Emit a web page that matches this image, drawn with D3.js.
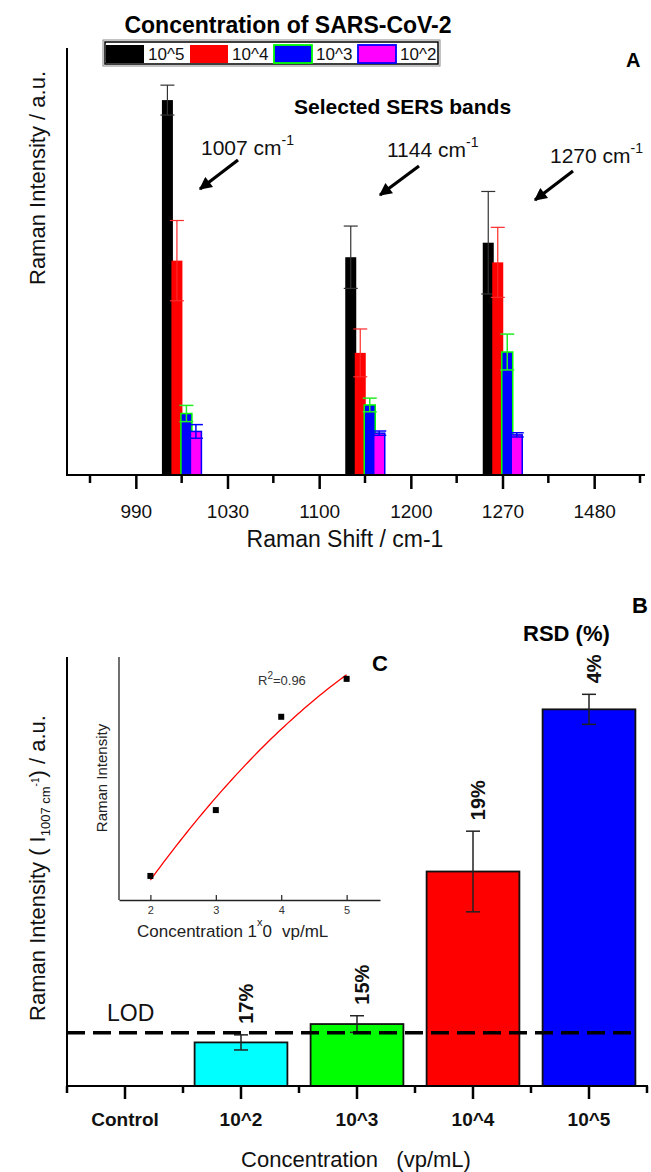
<!DOCTYPE html>
<html>
<head>
<meta charset="utf-8">
<script src="https://cdn.jsdelivr.net/npm/d3@7"></script>
<style>
  body { margin: 0; background: #fff; }
  svg { display: block; }
  text { font-family: "Liberation Sans", Arial, sans-serif; }
</style>
</head>
<body>
<svg width="651" height="1172"></svg>
<script>
// ---- panel A : selected SERS bands ----
const shiftTicks = [990, 1030, 1100, 1200, 1270, 1480];
const bands = [1007, 1144, 1270];
const concKeys = ["10^5", "10^4", "10^3", "10^2"];
const bandIntensity = [
  [4390, 2510, 720, 510],
  [2550, 1430, 820, 490],
  [2720, 2490, 1440, 470]
];
const bandErr = [
  [175, 470, 95, 80],
  [365, 280, 80, 25],
  [600, 410, 210, 25]
];

// ---- panel B : intensity of the 1007 band ----
const concLabels = ["Control", "10^2", "10^3", "10^4", "10^5"];
const meanI = [null, 508, 722, 2500, 4390];
const errI = [null, 88, 97, 470, 175];
const rsdLabels = [null, "17%", "15%", "19%", "4%"];
const lodValue = 621;

// ---- inset C : calibration ----
const logConc = [2, 3, 4, 5];
const insetI = [9.9, 37, 75.4, 91];

const svg = d3.select("svg");

// colours of the series in A
const fillA = ["#000000", "#ff0000", "#0000ff", "#ff00ff"];
const strokeA = ["none", "none", "#00ff00", "#0000ff"];
const errColA = ["#333333", "#ff2a2a", "#22ee22", "#0000ff"];
const fillB = [null, "#00ffff", "#00ff00", "#ff0000", "#0000ff"];

// ================= PANEL A =================
const yA = d3.scaleLinear().domain([0, 5000]).range([475, 48]);
const slot = d3.scaleLinear().domain([-0.5, shiftTicks.length - 0.5]).range([90, 640]);
const xTick = d3.scalePoint().domain(shiftTicks).range([slot(0), slot(shiftTicks.length - 1)]);

// category axis: a shift that is not a tick sits halfway between its neighbours
function xA(v) {
  const i = shiftTicks.indexOf(v);
  if (i >= 0) return xTick(v);
  return slot(d3.bisectLeft(shiftTicks, v) - 0.5);
}

const barW = 11, barStep = 9.5;

const gBars = svg.append("g");
bands.forEach(function(b, gi) {
  const cx0 = xA(b);
  concKeys.forEach(function(k, si) {
    const cx = cx0 + (si - 1.5) * barStep;
    const v = bandIntensity[gi][si], e = bandErr[gi][si];
    gBars.append("rect")
      .attr("x", cx - barW / 2)
      .attr("y", yA(v))
      .attr("width", barW)
      .attr("height", yA(0) - yA(v))
      .attr("fill", fillA[si])
      .attr("stroke", strokeA[si])
      .attr("stroke-width", 1.5);
    // error bar
    const eg = gBars.append("g").attr("stroke", errColA[si]).attr("stroke-width", si >= 2 ? 1.5 : 1.2);
    eg.append("line").attr("x1", cx).attr("x2", cx).attr("y1", yA(v + e)).attr("y2", yA(v - e));
    eg.append("line").attr("x1", cx - 7).attr("x2", cx + 7).attr("y1", yA(v + e)).attr("y2", yA(v + e));
    eg.append("line").attr("x1", cx - 7).attr("x2", cx + 7).attr("y1", yA(v - e)).attr("y2", yA(v - e));
  });
});

// axes A
svg.append("line").attr("x1", 67).attr("x2", 67).attr("y1", 48).attr("y2", 476)
  .attr("stroke", "#000").attr("stroke-width", 2);
svg.append("line").attr("x1", 66).attr("x2", 645).attr("y1", 475).attr("y2", 475)
  .attr("stroke", "#000").attr("stroke-width", 2);

const axA = svg.append("g")
  .attr("transform", "translate(0,475)")
  .call(d3.axisBottom(xTick).tickSize(14).tickPadding(16).tickFormat(d3.format("d")));
axA.select(".domain").remove();
axA.selectAll(".tick line").attr("stroke", "#000").attr("stroke-width", 2.5);
axA.selectAll(".tick text").attr("font-size", 19).attr("fill", "#111")
  .attr("font-family", '"Liberation Sans", Arial, sans-serif');

// minor ticks
svg.append("g").selectAll("line")
  .data(d3.range(shiftTicks.length + 1))
  .join("line")
  .attr("x1", i => slot(i - 0.5)).attr("x2", i => slot(i - 0.5))
  .attr("y1", 475).attr("y2", 483)
  .attr("stroke", "#000").attr("stroke-width", 2.5);

svg.append("text").attr("x", 345).attr("y", 547).attr("text-anchor", "middle")
  .attr("font-size", 23).attr("fill", "#111").text("Raman Shift / cm-1");

svg.append("text").attr("transform", "translate(45,178) rotate(-90)")
  .attr("text-anchor", "middle").attr("font-size", 22).attr("fill", "#111")
  .text("Raman Intensity / a.u.");

// title + legend
svg.append("text").attr("x", 288).attr("y", 33).attr("text-anchor", "middle")
  .attr("font-size", 23).attr("font-weight", "bold").text("Concentration of SARS-CoV-2");

svg.append("rect").attr("x", 103).attr("y", 40).attr("width", 337).attr("height", 26)
  .attr("fill", "#fff").attr("stroke", "#888").attr("stroke-width", 1);
svg.append("rect").attr("x", 105).attr("y", 42).attr("width", 333).attr("height", 22)
  .attr("fill", "none").attr("stroke", "#000").attr("stroke-width", 1.5);

const leg = svg.append("g").selectAll("g").data(concKeys).join("g")
  .attr("transform", (d, i) => "translate(" + (106 + i * 84) + ",45)");
leg.append("rect").attr("width", 38).attr("height", 18)
  .attr("fill", (d, i) => fillA[i])
  .attr("stroke", (d, i) => strokeA[i] === "none" ? "none" : strokeA[i])
  .attr("stroke-width", 1.8);
leg.append("text").attr("x", 42).attr("y", 15).attr("font-size", 17).attr("fill", "#111").text(d => d);

svg.append("text").attr("x", 626).attr("y", 67).attr("font-size", 20).attr("font-weight", "bold").text("A");

svg.append("text").attr("x", 294).attr("y", 114).attr("font-size", 21).attr("font-weight", "bold")
  .text("Selected SERS bands");

// band annotations
const bandNotes = [
  { label: "1007", x: 201, y: 155, arrow: [238, 160, 200, 189] },
  { label: "1144", x: 387, y: 157, arrow: [419, 166, 380, 195] },
  { label: "1270", x: 550, y: 163, arrow: [573, 171, 535, 200] }
];
svg.append("defs").append("marker")
  .attr("id", "head").attr("viewBox", "0 0 10 10").attr("refX", 9).attr("refY", 5)
  .attr("markerWidth", 4.5).attr("markerHeight", 4).attr("orient", "auto")
  .attr("markerUnits", "strokeWidth")
  .append("path").attr("d", "M0,0 L10,5 L0,10 z").attr("fill", "#000");

bandNotes.forEach(function(n) {
  const t = svg.append("text").attr("x", n.x).attr("y", n.y).attr("font-size", 21).attr("fill", "#111");
  t.append("tspan").text(n.label + " cm");
  t.append("tspan").attr("dy", -10).attr("font-size", 14).text("-1");
  svg.append("line")
    .attr("x1", n.arrow[0]).attr("y1", n.arrow[1]).attr("x2", n.arrow[2]).attr("y2", n.arrow[3])
    .attr("stroke", "#000").attr("stroke-width", 3.2).attr("marker-end", "url(#head)");
});

// ================= PANEL B =================
const yB = d3.scaleLinear().domain([0, 5000]).range([1086, 657]);
const xB = d3.scaleBand().domain(concLabels).range([67, 647]).paddingInner(0.2).paddingOuter(0.1);

const gB = svg.append("g");
concLabels.forEach(function(c, i) {
  if (meanI[i] == null) return;
  const x0 = xB(c);
  gB.append("rect")
    .attr("x", x0).attr("y", yB(meanI[i]))
    .attr("width", xB.bandwidth()).attr("height", yB(0) - yB(meanI[i]))
    .attr("fill", fillB[i]).attr("stroke", "#111").attr("stroke-width", 1.8);
});

// LOD line
svg.append("line").attr("x1", 67).attr("x2", 634).attr("y1", yB(lodValue)).attr("y2", yB(lodValue))
  .attr("stroke", "#000").attr("stroke-width", 3.5).attr("stroke-dasharray", "18,8");
svg.append("text").attr("x", 107).attr("y", 1021).attr("font-size", 23).attr("fill", "#111").text("LOD");

// error bars + RSD labels
concLabels.forEach(function(c, i) {
  if (meanI[i] == null) return;
  const cx = xB(c) + xB.bandwidth() / 2;
  const hi = yB(meanI[i] + errI[i]), lo = yB(meanI[i] - errI[i]);
  const eg = gB.append("g").attr("stroke", "#222").attr("stroke-width", 1.5);
  eg.append("line").attr("x1", cx).attr("x2", cx).attr("y1", hi).attr("y2", lo);
  eg.append("line").attr("x1", cx - 7).attr("x2", cx + 7).attr("y1", hi).attr("y2", hi);
  eg.append("line").attr("x1", cx - 7).attr("x2", cx + 7).attr("y1", lo).attr("y2", lo);
  svg.append("text")
    .attr("transform", "translate(" + (cx + 12) + "," + (hi - 11) + ") rotate(-90)")
    .attr("font-size", 20).attr("font-weight", "bold").attr("fill", "#111")
    .text(rsdLabels[i]);
});

// axes B
svg.append("line").attr("x1", 67).attr("x2", 67).attr("y1", 657).attr("y2", 1087)
  .attr("stroke", "#000").attr("stroke-width", 2);
svg.append("line").attr("x1", 66).attr("x2", 648).attr("y1", 1086).attr("y2", 1086)
  .attr("stroke", "#000").attr("stroke-width", 2);
const axB = svg.append("g").attr("transform", "translate(0,1086)")
  .call(d3.axisBottom(xB).tickSize(13).tickPadding(14));
axB.select(".domain").remove();
axB.selectAll(".tick line").attr("stroke", "#000").attr("stroke-width", 2.5);
axB.selectAll(".tick text").attr("font-size", 19).attr("font-weight", "bold").attr("fill", "#111")
  .attr("font-family", '"Liberation Sans", Arial, sans-serif');
svg.append("g").selectAll("line")
  .data(d3.range(concLabels.length + 1))
  .join("line")
  .attr("x1", i => 67 + i * xB.step()).attr("x2", i => 67 + i * xB.step())
  .attr("y1", 1086).attr("y2", 1093)
  .attr("stroke", "#000").attr("stroke-width", 2.5);

svg.append("text").attr("x", 356).attr("y", 1167).attr("text-anchor", "middle")
  .attr("font-size", 22).attr("fill", "#111").attr("xml:space", "preserve")
  .text("Concentration   (vp/mL)");

const yLabB = svg.append("text").attr("transform", "translate(45,868) rotate(-90)")
  .attr("text-anchor", "middle").attr("font-size", 22).attr("fill", "#111");
yLabB.append("tspan").text("Raman Intensity ( I");
yLabB.append("tspan").attr("font-size", 13).attr("dy", 5).text("1007 cm");
yLabB.append("tspan").attr("font-size", 10).attr("dy", -11).text("-1");
yLabB.append("tspan").attr("dy", 6).text(") / a.u.");

svg.append("text").attr("x", 632).attr("y", 613).attr("font-size", 22).attr("font-weight", "bold").text("B");
svg.append("text").attr("x", 523).attr("y", 641).attr("font-size", 22).attr("font-weight", "bold").text("RSD (%)");

// ================= INSET C =================
const xC = d3.scaleLinear().domain([1.52, 5.51]).range([119, 380]);
const yC = d3.scaleLinear().domain([0, 100]).range([900, 657]);

// quadratic least-squares fit of the calibration points
function quadFit(xs, ys) {
  const n = xs.length;
  let s = [0, 0, 0, 0, 0], t = [0, 0, 0];
  for (let i = 0; i < n; i++) {
    let p = 1;
    for (let k = 0; k < 5; k++) { s[k] += p; if (k < 3) t[k] += p * ys[i]; p *= xs[i]; }
  }
  const A = [[s[0], s[1], s[2], t[0]], [s[1], s[2], s[3], t[1]], [s[2], s[3], s[4], t[2]]];
  for (let c = 0; c < 3; c++) {
    for (let r = c + 1; r < 3; r++) {
      const f = A[r][c] / A[c][c];
      for (let k = c; k < 4; k++) A[r][k] -= f * A[c][k];
    }
  }
  const co = [0, 0, 0];
  for (let r = 2; r >= 0; r--) {
    let v = A[r][3];
    for (let k = r + 1; k < 3; k++) v -= A[r][k] * co[k];
    co[r] = v / A[r][r];
  }
  return x => co[0] + co[1] * x + co[2] * x * x;
}
const fit = quadFit(logConc, insetI);
const fitX = d3.range(0, 61).map(i => 2 + i * 0.05);

svg.append("path").datum(fitX)
  .attr("fill", "none").attr("stroke", "#ff0000").attr("stroke-width", 1.3)
  .attr("d", d3.line().x(d => xC(d)).y(d => yC(fit(d))));

svg.append("g").selectAll("rect").data(logConc).join("rect")
  .attr("x", (d) => xC(d) - 3).attr("y", (d, i) => yC(insetI[i]) - 3)
  .attr("width", 6).attr("height", 6).attr("fill", "#000");

svg.append("line").attr("x1", 119).attr("x2", 119).attr("y1", 657).attr("y2", 900)
  .attr("stroke", "#222").attr("stroke-width", 1.3);
const axC = svg.append("g").attr("transform", "translate(0,900)")
  .call(d3.axisBottom(xC).tickValues(logConc).tickSizeInner(-5).tickSizeOuter(0).tickPadding(6)
    .tickFormat(d3.format("d")));
axC.select(".domain").attr("stroke", "#222").attr("stroke-width", 1.3);
axC.selectAll(".tick line").attr("stroke", "#222").attr("stroke-width", 1.2);
axC.selectAll(".tick text").attr("font-size", 11).attr("fill", "#333")
  .attr("font-family", '"Liberation Sans", Arial, sans-serif');

const cLab = svg.append("text").attr("x", 137).attr("y", 937).attr("font-size", 17).attr("fill", "#222");
cLab.append("tspan").text("Concentration 1");
cLab.append("tspan").attr("font-size", 11).attr("dy", -11).text("x");
cLab.append("tspan").attr("dy", 11).text("0");
cLab.append("tspan").attr("dx", 10).text("vp/mL");

svg.append("text").attr("transform", "translate(107,778) rotate(-90)")
  .attr("text-anchor", "middle").attr("font-size", 15).attr("fill", "#222").text("Raman Intensity");

const r2 = svg.append("text").attr("x", 258).attr("y", 685).attr("font-size", 13).attr("fill", "#333");
r2.append("tspan").text("R");
r2.append("tspan").attr("dy", -6).attr("font-size", 10).text("2");
r2.append("tspan").attr("dy", 6).text("=0.96");

svg.append("text").attr("x", 372).attr("y", 671).attr("font-size", 22).attr("font-weight", "bold").text("C");
</script>
</body>
</html>
